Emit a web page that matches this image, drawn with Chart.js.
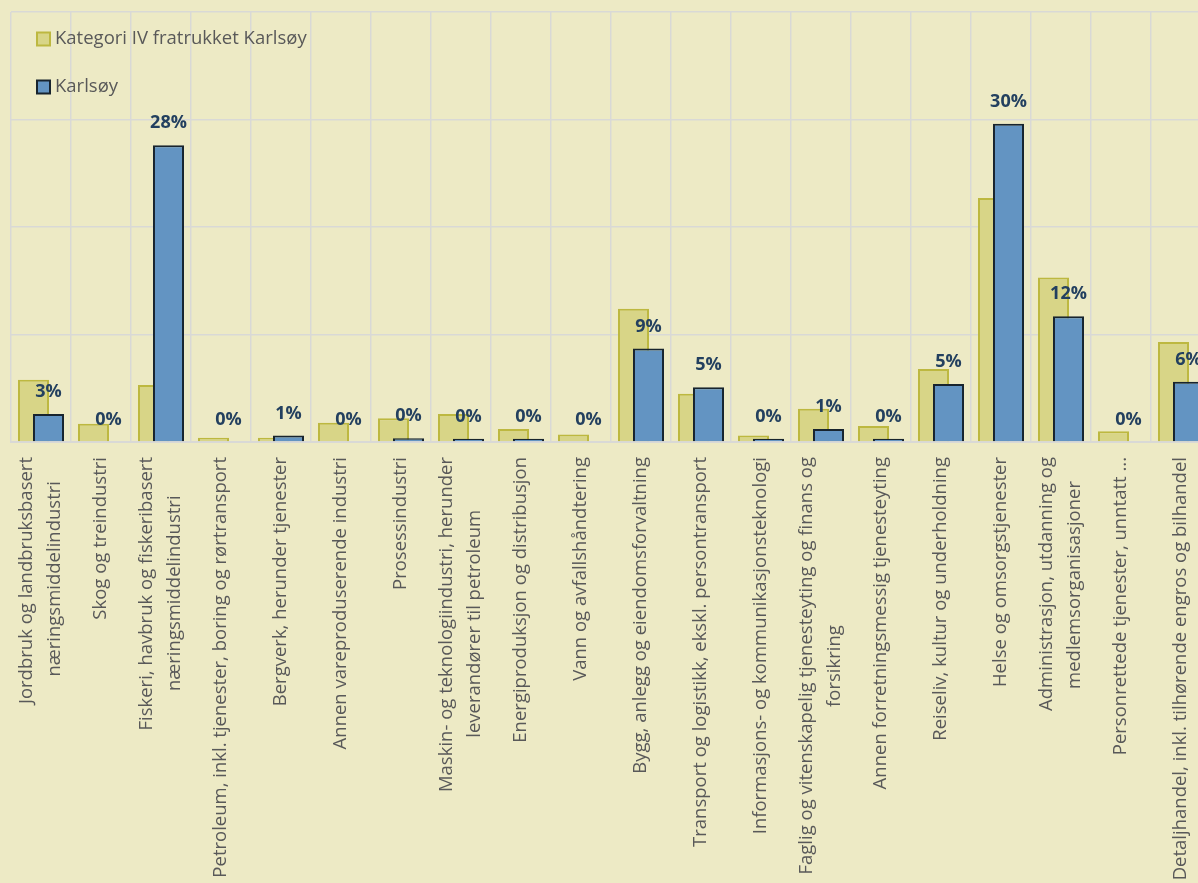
<!DOCTYPE html>
<html>
<head>
<meta charset="utf-8">
<script src="https://cdn.jsdelivr.net/npm/chart.js@4.4.1/dist/chart.umd.min.js"></script>
<style>
  html, body { margin: 0; padding: 0; background: #EDEAC5; overflow: hidden; }
</style>
</head>
<body>
<canvas id="naeringChart" width="1212" height="883"></canvas>
<script>
const categories = [
  ['Jordbruk og landbruksbasert', 'næringsmiddelindustri'],
  'Skog og treindustri',
  ['Fiskeri, havbruk og fiskeribasert', 'næringsmiddelindustri'],
  'Petroleum, inkl. tjenester, boring og rørtransport',
  'Bergverk, herunder tjenester',
  'Annen vareproduserende industri',
  'Prosessindustri',
  ['Maskin- og teknologiindustri, herunder', 'leverandører til petroleum'],
  'Energiproduksjon og distribusjon',
  'Vann og avfallshåndtering',
  'Bygg, anlegg og eiendomsforvaltning',
  'Transport og logistikk, ekskl. persontransport',
  'Informasjons- og kommunikasjonsteknologi',
  ['Faglig og vitenskapelig tjenesteyting og finans og', 'forsikring'],
  'Annen forretningsmessig tjenesteyting',
  'Reiseliv, kultur og underholdning',
  'Helse og omsorgstjenester',
  ['Administrasjon, utdanning og', 'medlemsorganisasjoner'],
  'Personrettede tjenester, unntatt ...',
  'Detaljhandel, inkl. tilhørende engros og bilhandel'
]

// percent
const kategoriIV = [5.8, 1.7, 5.3, 0.4, 0.4, 1.8, 2.2, 2.6, 1.2, 0.7, 12.4, 4.5, 0.6, 3.1, 1.5, 6.8, 22.7, 15.3, 1.0, 9.3]
const karlsoy = [2.6, 0, 27.6, 0, 0.6, 0, 0.35, 0.3, 0.3, 0, 8.7, 5.1, 0.3, 1.2, 0.3, 5.4, 29.6, 11.7, 0, 5.6]

const seriesNames = ['Kategori IV fratrukket Karlsøy', 'Karlsøy']
const yMin = 0
const yMax = 40
const yStep = 10

const labelFont = { family: '"Open Sans", sans-serif', size: 18.5, lineHeight: 1.5 }

// Chart.js right-aligns rotated lines, pad the short ones so they sit centred
const measure = document.createElement('canvas').getContext('2d')
measure.font = labelFont.size + 'px ' + labelFont.family
const spaceW = measure.measureText(' ').width
const tickLabels = categories.map(function (c) {
  if (!Array.isArray(c)) return c
  const widths = c.map(l => measure.measureText(l).width)
  const maxW = Math.max(...widths)
  return c.map(function (l, i) {
    const n = Math.round((maxW - widths[i]) / 2 / spaceW)
    return l + ' '.repeat(n)
  })
})

const valueLabels = {
  id: 'valueLabels',
  beforeDraw(chart) {
    // multi-line rotated ticks start at the tick, move them so the block is centred
    const scale = chart.scales.x
    const lh = labelFont.size * labelFont.lineHeight
    scale.getLabelItems(chart.chartArea).forEach(function (item) {
      if (Array.isArray(item.label) && !item.$moved) {
        item.options.translation[0] -= (item.label.length - 1) * lh / 2
        item.$moved = true
      }
    })
  },
  beforeDatasetDraw(chart, args) {
    // blue series is drawn afterwards so it ends up in front
    if (args.index === 1) return false
  },
  afterDatasetsDraw(chart) {
    const meta = chart.getDatasetMeta(1)
    meta.controller.draw()

    const ctx = chart.ctx
    ctx.save()
    ctx.font = 'bold 18px "Open Sans", sans-serif'
    ctx.fillStyle = '#23405F'
    ctx.textAlign = 'center'
    ctx.textBaseline = 'middle'
    meta.data.forEach(function (bar, i) {
      ctx.fillText(Math.round(karlsoy[i]) + '%', bar.x, bar.y - 22)
    })
    ctx.restore()
  },
  afterDraw(chart) {
    // legend sits inside the plot, top left
    const ctx = chart.ctx
    const area = chart.chartArea
    ctx.save()
    ctx.font = '18.5px "Open Sans", sans-serif'
    ctx.textBaseline = 'middle'
    chart.data.datasets.forEach(function (ds, i) {
      const x = area.left + 26
      const y = area.top + 27 + i * 48
      ctx.fillStyle = ds.backgroundColor
      ctx.fillRect(x, y - 6.5, 13, 13)
      ctx.strokeStyle = ds.borderColor
      ctx.lineWidth = 2
      ctx.strokeRect(x, y - 6.5, 13, 13)
      ctx.fillStyle = '#595959'
      ctx.fillText(ds.label, x + 18, y)
    })
    ctx.restore()
  }
}

const data = {
  labels: tickLabels,
  datasets: [{
    label: seriesNames[0],
    data: kategoriIV,
    backgroundColor: '#D8D587',
    borderColor: '#BDB840',
    borderWidth: 2,
    categoryPercentage: 0.5,
    barPercentage: 2.07
  }, {
    label: seriesNames[1],
    data: karlsoy,
    backgroundColor: '#6394C2',
    borderColor: '#18242E',
    borderWidth: 2,
    categoryPercentage: 0.5,
    barPercentage: 2.07
  }]
}

const config = {
  type: 'bar',
  data: data,
  plugins: [valueLabels],
  options: {
    responsive: false,
    animation: false,
    layout: { padding: { left: 11, top: 12, right: 1, bottom: 0 } },
    plugins: {
      legend: { display: false },
      tooltip: { enabled: false }
    },
    scales: {
      x: {
        grid: { color: '#D9D9D6', lineWidth: 1.5, drawTicks: false },
        border: { color: '#D9D9D6', width: 2 },
        ticks: {
          color: '#595959',
          font: labelFont,
          padding: 15,
          minRotation: 90,
          maxRotation: 90,
          autoSkip: false
        },
        afterFit(scale) {
          scale.height = 441
          scale.paddingLeft = 0
          scale.paddingRight = 0
        }
      },
      y: {
        min: yMin,
        max: yMax,
        grid: { color: '#D9D9D6', lineWidth: 1.5, drawTicks: false },
        border: { display: false },
        ticks: { display: false, stepSize: yStep },
        afterFit(scale) { scale.width = 0 }
      }
    }
  }
}

const naeringChart = new Chart(document.getElementById('naeringChart'), config)
</script>
</body>
</html>
